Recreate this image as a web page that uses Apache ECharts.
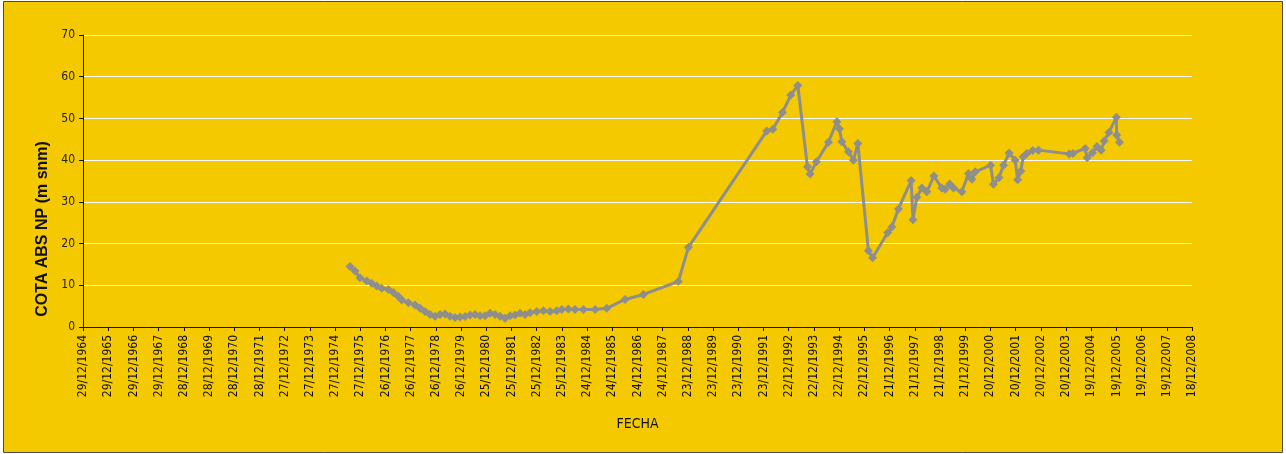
<!DOCTYPE html>
<html>
<head>
<meta charset="utf-8">
<script src="https://cdn.jsdelivr.net/npm/echarts@6/dist/echarts.min.js"></script>
<style>
  html, body { margin: 0; padding: 0; background: #fff; }
  #chart { width: 1286px; height: 454px; }
</style>
</head>
<body>
<div id="chart"></div>
<script>
// fechas de medida y cota (m snm)
const fechas = [
  '1975-08-01', '1975-10-13', '1975-12-23', '1976-03-30', '1976-06-10', '1976-08-22', '1976-11-02',
  '1977-02-06', '1977-04-19', '1977-07-01', '1977-08-19', '1977-11-23', '1978-02-28', '1978-05-11',
  '1978-07-22', '1978-10-03', '1978-12-14', '1979-02-25', '1979-05-08', '1979-07-20', '1979-09-30',
  '1979-12-11', '1980-02-22', '1980-05-04', '1980-07-16', '1980-09-26', '1980-12-07', '1981-02-18',
  '1981-05-01', '1981-07-13', '1981-09-23', '1981-12-05', '1982-02-15', '1982-04-28', '1982-07-10',
  '1982-09-20', '1982-12-26', '1983-04-01', '1983-07-07', '1983-10-12', '1983-12-23', '1984-03-28',
  '1984-07-03', '1984-10-31', '1985-04-19', '1985-10-05', '1986-06-27', '1987-03-19', '1988-08-07',
  '1988-12-30', '1992-02-09', '1992-05-06', '1992-09-22', '1993-01-21', '1993-05-03', '1993-09-19',
  '1993-10-28', '1994-01-27', '1994-07-20', '1994-11-19', '1994-12-26', '1995-01-30', '1995-05-06',
  '1995-07-17', '1995-09-19', '1996-02-19', '1996-04-20', '1996-11-24', '1997-01-23', '1997-04-29',
  '1997-10-30', '1997-11-25', '1998-01-20', '1998-04-03', '1998-06-14', '1998-09-24', '1999-01-17',
  '1999-03-06', '1999-05-11', '1999-07-05', '1999-11-03', '2000-02-07', '2000-03-27', '2000-05-14',
  '2000-12-24', '2001-02-03', '2001-04-23', '2001-06-28', '2001-09-18', '2001-12-14', '2002-01-19',
  '2002-03-07', '2002-04-09', '2002-06-02', '2002-08-25', '2002-11-17', '2004-02-04', '2004-03-29',
  '2004-09-23', '2004-10-22', '2005-01-07', '2005-03-12', '2005-05-13', '2005-06-25', '2005-09-01',
  '2005-12-19', '2005-12-24', '2006-02-02'
]
const cotas = [
  14.5, 13.4, 11.8, 11.0, 10.5, 9.8, 9.3,
  9.0, 8.3, 7.3, 6.5, 5.8, 5.3, 4.5,
  3.7, 3.0, 2.6, 3.0, 3.1, 2.6, 2.3,
  2.4, 2.5, 2.9, 3.0, 2.7, 2.7, 3.3,
  3.0, 2.6, 2.1, 2.7, 2.9, 3.3, 3.0,
  3.4, 3.7, 3.9, 3.7, 3.9, 4.2, 4.3,
  4.2, 4.2, 4.2, 4.5, 6.6, 7.8, 10.9,
  19.1, 47.0, 47.4, 51.4, 55.6, 57.9, 38.4,
  36.7, 39.6, 44.3, 49.2, 47.5, 44.4, 42.0,
  40.0, 44.0, 18.3, 16.6, 22.6, 24.0, 28.3,
  35.1, 25.7, 31.1, 33.3, 32.4, 36.2, 33.3,
  33.0, 34.3, 33.3, 32.4, 36.8, 35.4, 37.2,
  38.8, 34.2, 35.8, 38.8, 41.7, 40.0, 35.3,
  37.4, 40.8, 41.6, 42.3, 42.4, 41.5, 41.6,
  42.8, 40.6, 41.8, 43.3, 42.4, 44.6, 46.6,
  50.3, 46.0, 44.3
]

// eje X en dias desde el 29/12/1964, marcas cada 365 dias
const base = Date.UTC(1964, 11, 29)
const DIA = 86400000
const nMarcas = 44
const fuente = "'DejaVu Sans Condensed', 'Liberation Sans', sans-serif"

const dias = (s) => {
  const p = s.split('-')
  return Math.round((Date.UTC(+p[0], +p[1] - 1, +p[2]) - base) / DIA)
}
const etiqueta = (v) => {
  const d = new Date(base + v * DIA)
  const dd = String(d.getUTCDate()).padStart(2, '0')
  const mm = String(d.getUTCMonth() + 1).padStart(2, '0')
  return dd + '/' + mm + '/' + d.getUTCFullYear()
}

const myChart = echarts.init(document.getElementById('chart'))
myChart.setOption({
  backgroundColor: '#ffffff',
  animation: false,
  graphic: [
    {
      type: 'rect',
      z: -10,
      silent: true,
      shape: { x: 3.5, y: 1.5, width: 1279, height: 451 },
      style: { fill: '#F5C900', stroke: '#4a4a4a', lineWidth: 1 }
    },
    // titulo del eje Y (en el original va algo desplazado hacia abajo)
    {
      type: 'text',
      x: 43,
      y: 229,
      rotation: Math.PI / 2,
      silent: true,
      style: {
        text: 'COTA ABS NP (m snm)',
        fontFamily: 'Liberation Sans',
        fontWeight: 'bold',
        fontSize: 16,
        fill: '#111',
        align: 'center',
        verticalAlign: 'middle'
      }
    }
  ],
  grid: {
    left: 83,
    right: 94,
    top: 35,
    bottom: 127
  },
  xAxis: {
    type: 'value',
    min: 0,
    max: nMarcas * 365,
    interval: 365,
    name: 'FECHA',
    nameLocation: 'middle',
    nameGap: 90,
    nameTextStyle: {
      fontFamily: fuente,
      fontSize: 14,
      color: '#111'
    },
    splitLine: { show: false },
    axisLine: { lineStyle: { color: '#111', width: 1 } },
    axisTick: { lineStyle: { color: '#111' }, length: 4 },
    axisLabel: {
      rotate: 90,
      margin: 8,
      fontFamily: fuente,
      fontSize: 12,
      color: '#111',
      formatter: etiqueta
    }
  },
  yAxis: {
    type: 'value',
    min: 0,
    max: 70,
    interval: 10,
    axisLine: { show: true, lineStyle: { color: '#111', width: 1 } },
    axisTick: { show: true, inside: false, length: 4, lineStyle: { color: '#111' } },
    axisLabel: {
      margin: 8,
      fontFamily: fuente,
      fontSize: 12,
      color: '#222'
    },
    splitLine: { lineStyle: { color: '#ffffff', width: 1.2 } }
  },
  series: [
    {
      name: 'Cota',
      type: 'line',
      data: fechas.map((f, i) => [dias(f), cotas[i]]),
      symbol: 'diamond',
      symbolSize: 9,
      lineStyle: { color: '#8E8E8E', width: 3 },
      itemStyle: { color: '#8E8E8E' }
    }
  ]
})
</script>
</body>
</html>
